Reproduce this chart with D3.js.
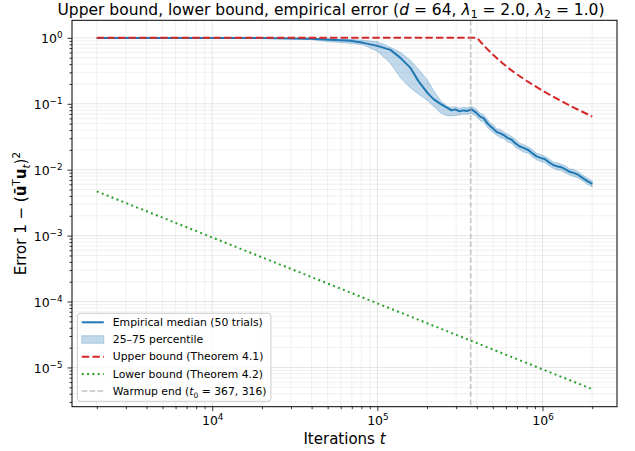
<!DOCTYPE html>
<html>
<head>
  <meta charset="utf-8">
  <title>Upper bound, lower bound, empirical error</title>
  <script src="https://cdn.jsdelivr.net/npm/d3@7"></script>
  <style>
    html, body {
      background: #fff;
      margin: 0;
    }

    svg {
      font-family: "DejaVu Sans", sans-serif;
    }

    .tick line {
      stroke: #000;
      stroke-width: 0.8px;
    }
  </style>
</head>
<body>

  <svg id="chart" width="635" height="451"></svg>

  <script>
  // iterations at which the empirical curves were read
  var iterations = [2000, 4200, 10000, 19500, 29700, 39300, 51900, 68500, 82200, 100000,
    120000, 138000, 158500, 177000, 201000, 218000, 241000, 265500, 280700, 297000,
    314000, 332000, 351000, 371500, 398000, 421000, 440000, 464000, 485000, 505000,
    530000, 556000, 585000, 613000, 650000, 686000, 725000, 767000, 820000, 869000,
    920000, 972000, 1030000, 1087000, 1160000, 1233000, 1300000, 1378000, 1460000, 1541000,
    1640000, 1747000, 1870000, 2000000];

  var medianErr = [0.999, 0.998, 0.997, 0.993, 0.979, 0.966, 0.933, 0.901, 0.840, 0.756,
    0.658, 0.497, 0.351, 0.2226, 0.1463, 0.1187, 0.0997, 0.0867, 0.0794, 0.0822,
    0.0767, 0.0794, 0.0780, 0.0822, 0.0728, 0.0633, 0.0605, 0.0504, 0.0451, 0.0416,
    0.0371, 0.0355, 0.0333, 0.0304, 0.0285, 0.02506, 0.0227, 0.02142, 0.0199, 0.01767,
    0.0159, 0.0151, 0.0145, 0.01313, 0.0118, 0.01122, 0.0109, 0.0101, 0.0093, 0.00894,
    0.0084, 0.00751, 0.0067, 0.00609];

  var p75Err = [1.0, 1.0, 0.999, 0.996, 0.990, 0.983, 0.966, 0.949, 0.923, 0.870,
    0.718, 0.6026, 0.4556, 0.3385, 0.2305, 0.1625, 0.1126, 0.0913, 0.0882, 0.0897,
    0.0851, 0.0882, 0.0867, 0.0913, 0.0822, 0.0715, 0.0680, 0.058, 0.0505, 0.0478,
    0.0415, 0.0409, 0.0370, 0.0349, 0.0318, 0.0288, 0.0253, 0.0242, 0.0221, 0.0200,
    0.0177, 0.01707, 0.0161, 0.01484, 0.0131, 0.01268, 0.0121, 0.01142, 0.0103, 0.0101,
    0.0093, 0.00834, 0.0075, 0.00676];

  var p25Err = [0.998, 0.997, 0.995, 0.986, 0.966, 0.939, 0.870, 0.825, 0.783, 0.6238,
    0.4131, 0.2472, 0.1743, 0.1413, 0.1126, 0.0929, 0.0728, 0.0655, 0.0655, 0.0667,
    0.0679, 0.0691, 0.0691, 0.0715, 0.0644, 0.055, 0.0535, 0.0438, 0.0398, 0.0362,
    0.0330, 0.0309, 0.0296, 0.0264, 0.0253, 0.0218, 0.0203, 0.01862, 0.0177, 0.01564,
    0.0142, 0.01337, 0.0129, 0.01162, 0.0105, 0.00993, 0.0097, 0.00894, 0.0083, 0.00791,
    0.0075, 0.00676, 0.0060, 0.00548];

  var upperT = [2000, 10000, 100000, 402000, 421000, 451000, 506000, 568000, 637000, 703000,
    802000, 1009000, 1271000, 1600000, 2000000];
  var upperErr = [1.0, 1.0, 1.0, 1.0, 0.874, 0.723, 0.543, 0.420, 0.333, 0.278,
    0.222, 0.156, 0.113, 0.084, 0.064];

  var lowerT = [2000, 10000, 100000, 1000000, 2000000];
  var lowerErr = [4.69e-3, 9.38e-4, 9.38e-5, 9.38e-6, 4.69e-6];

  var warmupT = 367316;

  var xTickValues = [1e4, 1e5, 1e6],
      xTickExps = ["4", "5", "6"];
  var yTickValues = [1, 1e-1, 1e-2, 1e-3, 1e-4, 1e-5],
      yTickExps = ["0", "\u22121", "\u22122", "\u22123", "\u22124", "\u22125"];

  var legendLabels = [
    [{t: "Empirical median (50 trials)"}],
    [{t: "25\u201375 percentile"}],
    [{t: "Upper bound (Theorem 4.1)"}],
    [{t: "Lower bound (Theorem 4.2)"}],
    [{t: "Warmup end ("}, {t: "t", s: "i"}, {t: "0", s: "sub"}, {t: " = 367, 316)", s: "after"}]
  ];

  (function () {

  var blue = "#1f77b4", red = "#d62728", green = "#2ca02c", gray = "#999999";

  var svg = d3.select("#chart");
  var plot = {left: 72, right: 617, top: 20.3, bottom: 406.7};

  // matplotlib style 5% margin in log space
  function logPad(lo, hi) {
    var a = Math.log10(lo), b = Math.log10(hi), p = 0.05 * (b - a);
    return [Math.pow(10, a - p), Math.pow(10, b + p)];
  }

  function minorTicks(scale) {
    var dom = scale.domain(), out = [];
    for (var e = Math.floor(Math.log10(dom[0])); e <= Math.ceil(Math.log10(dom[1])); e++) {
      for (var k = 2; k <= 9; k++) {
        var v = k * Math.pow(10, e);
        if (v >= dom[0] && v <= dom[1]) out.push(v);
      }
    }
    return out;
  }

  // writes a list of {t, s} pieces into a text element as tspans
  function richText(text, parts, size) {
    parts.forEach(function (p) {
      var ts = text.append("tspan").text(p.t);
      if (p.s === "i") ts.attr("font-style", "italic");
      if (p.s === "b") ts.attr("font-weight", "bold");
      if (p.s === "sub") ts.attr("dy", size * 0.25).attr("font-size", size * 0.7);
      if (p.s === "subi") ts.attr("dy", size * 0.25).attr("font-size", size * 0.7).attr("font-style", "italic");
      if (p.s === "sup") ts.attr("dy", -size * 0.42).attr("font-size", size * 0.7);
      if (p.s === "after") ts.attr("dy", size * -0.25);
      if (p.s === "bAfterSup") ts.attr("font-weight", "bold").attr("dy", size * 0.42);
    });
  }

  var x = d3.scaleLog()
      .domain(logPad(d3.min(iterations), d3.max(iterations)))
      .range([plot.left, plot.right]);

  var y = d3.scaleLog()
      .domain(logPad(d3.min(lowerErr.concat(p25Err)), d3.max(upperErr.concat(p75Err))))
      .range([plot.bottom, plot.top]);

  var xMinor = minorTicks(x), yMinor = minorTicks(y);

  svg.append("clipPath").attr("id", "plot-clip")
    .append("rect")
      .attr("x", plot.left).attr("y", plot.top)
      .attr("width", plot.right - plot.left).attr("height", plot.bottom - plot.top);

  // grid, minor then major
  var grid = svg.append("g");
  grid.selectAll("line.gx-minor").data(xMinor).enter().append("line")
      .attr("x1", x).attr("x2", x).attr("y1", plot.top).attr("y2", plot.bottom)
      .attr("stroke", "#ececec").attr("stroke-width", 0.8);
  grid.selectAll("line.gy-minor").data(yMinor).enter().append("line")
      .attr("y1", y).attr("y2", y).attr("x1", plot.left).attr("x2", plot.right)
      .attr("stroke", "#ececec").attr("stroke-width", 0.8);
  grid.selectAll("line.gx-major").data(xTickValues).enter().append("line")
      .attr("x1", x).attr("x2", x).attr("y1", plot.top).attr("y2", plot.bottom)
      .attr("stroke", "#dedede").attr("stroke-width", 0.8);
  grid.selectAll("line.gy-major").data(yTickValues).enter().append("line")
      .attr("y1", y).attr("y2", y).attr("x1", plot.left).attr("x2", plot.right)
      .attr("stroke", "#dedede").attr("stroke-width", 0.8);

  var marks = svg.append("g").attr("clip-path", "url(#plot-clip)");

  var band = d3.area()
      .x(function (d, i) { return x(iterations[i]); })
      .y0(function (d, i) { return y(p25Err[i]); })
      .y1(function (d, i) { return y(p75Err[i]); });

  marks.append("path")
      .attr("d", band(iterations))
      .attr("fill", blue).attr("fill-opacity", 0.28)
      .attr("stroke", blue).attr("stroke-opacity", 0.28).attr("stroke-width", 1);

  var line = d3.line()
      .x(function (d) { return x(d[0]); })
      .y(function (d) { return y(d[1]); });

  marks.append("path")
      .attr("d", line(d3.zip(iterations, medianErr)))
      .attr("fill", "none").attr("stroke", blue).attr("stroke-width", 2)
      .attr("stroke-linejoin", "round");

  marks.append("path")
      .attr("d", line(d3.zip(upperT, upperErr)))
      .attr("fill", "none").attr("stroke", red).attr("stroke-width", 2)
      .attr("stroke-dasharray", "7.4,3.2");

  marks.append("path")
      .attr("d", line(d3.zip(lowerT, lowerErr)))
      .attr("fill", "none").attr("stroke", green).attr("stroke-width", 2)
      .attr("stroke-dasharray", "2,3.3");

  marks.append("line")
      .attr("x1", x(warmupT)).attr("x2", x(warmupT))
      .attr("y1", plot.top).attr("y2", plot.bottom)
      .attr("stroke", gray).attr("stroke-opacity", 0.6).attr("stroke-width", 1.5)
      .attr("stroke-dasharray", "5.5,2.4");

  // axes
  var tickFont = 12.5;

  var xAxis = svg.append("g").attr("transform", "translate(0," + plot.bottom + ")");
  xAxis.append("g").call(d3.axisBottom(x).tickValues(xMinor).tickSize(2.5).tickSizeOuter(0).tickFormat(""));
  xAxis.append("g").call(d3.axisBottom(x).tickValues(xTickValues).tickSize(4.5).tickSizeOuter(0)
      .tickPadding(5).tickFormat(function () { return ""; }));
  xAxis.selectAll(".domain").remove();
  xAxis.selectAll(".tick text").filter(function (d) { return xTickValues.indexOf(d) >= 0; })
      .attr("font-size", tickFont).attr("font-family", "DejaVu Sans").attr("fill", "#000")
      .each(function (d) {
        richText(d3.select(this), [{t: "10"}, {t: xTickExps[xTickValues.indexOf(d)], s: "sup"}], tickFont);
      });

  var yAxis = svg.append("g").attr("transform", "translate(" + plot.left + ",0)");
  yAxis.append("g").call(d3.axisLeft(y).tickValues(yMinor).tickSize(2.5).tickSizeOuter(0).tickFormat(""));
  yAxis.append("g").call(d3.axisLeft(y).tickValues(yTickValues).tickSize(4.5).tickSizeOuter(0)
      .tickPadding(5).tickFormat(function () { return ""; }));
  yAxis.selectAll(".domain").remove();
  yAxis.selectAll(".tick text").filter(function (d) { return yTickValues.indexOf(d) >= 0; })
      .attr("font-size", tickFont).attr("font-family", "DejaVu Sans").attr("fill", "#000")
      .attr("dy", "0.4em")
      .each(function (d) {
        richText(d3.select(this), [{t: "10"}, {t: yTickExps[yTickValues.indexOf(d)], s: "sup"}], tickFont);
      });

  // spines
  svg.append("rect")
      .attr("x", plot.left).attr("y", plot.top)
      .attr("width", plot.right - plot.left).attr("height", plot.bottom - plot.top)
      .attr("fill", "none").attr("stroke", "#000").attr("stroke-width", 1);

  // title and labels
  var titleFont = 15.5;
  var title = svg.append("text")
      .attr("x", 331).attr("y", 14.5)
      .attr("text-anchor", "middle").attr("font-size", titleFont);
  richText(title, [
    {t: "Upper bound, lower bound, empirical error ("}, {t: "d", s: "i"}, {t: " = 64, "},
    {t: "\u03bb", s: "i"}, {t: "1", s: "sub"}, {t: " = 2.0, ", s: "after"},
    {t: "\u03bb", s: "i"}, {t: "2", s: "sub"}, {t: " = 1.0)", s: "after"}
  ], titleFont);

  var labelFont = 15;
  svg.append("text")
      .attr("x", (plot.left + plot.right) / 2).attr("y", 444)
      .attr("text-anchor", "middle").attr("font-size", labelFont)
      .call(function (t) { richText(t, [{t: "Iterations "}, {t: "t", s: "i"}], labelFont); });

  var ylab = svg.append("text")
      .attr("transform", "translate(26," + (plot.top + plot.bottom) / 2 + ") rotate(-90)")
      .attr("text-anchor", "middle").attr("font-size", labelFont);
  richText(ylab, [
    {t: "Error 1 \u2212 ("}, {t: "\u016b", s: "b"}, {t: "T", s: "sup"}, {t: "u", s: "bAfterSup"},
    {t: "t", s: "subi"}, {t: ")", s: "after"}, {t: "2", s: "sup"}
  ], labelFont);

  // legend
  var legFont = 10.8, rowH = 17.2, pad = 4.4;
  var legend = svg.append("g");
  var legBox = legend.append("rect")
      .attr("x", plot.left + 5.4).attr("rx", 3).attr("ry", 3)
      .attr("fill", "#fff").attr("fill-opacity", 0.8)
      .attr("stroke", "#cccccc").attr("stroke-width", 1);

  var rows = legend.selectAll("g.row").data(legendLabels).enter().append("g");

  var maxW = 0;
  rows.append("text")
      .attr("x", 31).attr("dy", "0.35em").attr("font-size", legFont)
      .each(function (d) {
        richText(d3.select(this), d, legFont);
        maxW = Math.max(maxW, this.getComputedTextLength());
      });

  var legH = legendLabels.length * rowH + 2;
  var legTop = plot.bottom - 5.4 - legH;
  legBox.attr("y", legTop).attr("width", pad + 31 + maxW + pad).attr("height", legH);
  rows.attr("transform", function (d, i) {
    return "translate(" + (plot.left + 5.4 + pad) + "," + (legTop + 9 + i * rowH) + ")";
  });

  var handles = [
    {stroke: blue, dash: null, w: 2},
    null,
    {stroke: red, dash: "7.4,3.2", w: 2},
    {stroke: green, dash: "2,3.3", w: 2},
    {stroke: gray, dash: "5.5,2.4", w: 1.5, op: 0.6}
  ];
  rows.each(function (d, i) {
    var g = d3.select(this), h = handles[i];
    if (h) {
      g.append("line").attr("x1", 0).attr("x2", 22).attr("y1", 0).attr("y2", 0)
          .attr("stroke", h.stroke).attr("stroke-width", h.w)
          .attr("stroke-opacity", h.op || 1)
          .attr("stroke-dasharray", h.dash);
    } else {
      g.append("rect").attr("x", 0).attr("y", -3.8).attr("width", 22).attr("height", 7.6)
          .attr("fill", blue).attr("fill-opacity", 0.28)
          .attr("stroke", blue).attr("stroke-opacity", 0.28);
    }
  });

  })();
  </script>
</body>
</html>
